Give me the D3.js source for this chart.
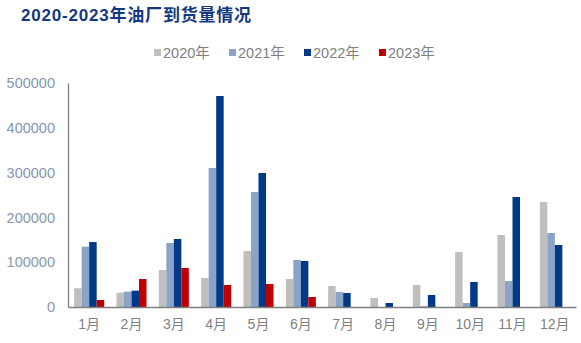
<!DOCTYPE html>
<html><head><meta charset="utf-8">
<script src="https://cdn.jsdelivr.net/npm/d3@7"></script>
<style>body{margin:0;background:#fff;}svg{display:block;}</style>
</head><body>
<script>
const categories = ["1月","2月","3月","4月","5月","6月","7月","8月","9月","10月","11月","12月"];
const seriesNames = ["2020年","2021年","2022年","2023年"];
const v2020 = [41700, 32000, 82600, 64700, 125000, 62500, 46900, 20100, 49100, 122800, 160700, 234400];
const v2021 = [134600, 34200, 142900, 310300, 256700, 104900, 33500, null, 2000, 8900, 58000, 165200];
const v2022 = [145000, 36400, 151800, 471000, 299100, 102700, 31300, 8900, 26800, 55800, 245500, 138400];
const v2023 = [15600, 62500, 87000, 49100, 51300, 22300, null, null, null, null, null, null];
const yTicks = [0, 100000, 200000, 300000, 400000, 500000];
const colors = ["#BFBFBF", "#8AA3C7", "#003A86", "#C00000"];

const W = 581, H = 343;
const svg = d3.select("body").append("svg").attr("width", W).attr("height", H);
const m = {left: 68, right: 5, top: 83, bottom: 36};
const x = d3.scaleBand().domain(categories).range([m.left, W - m.right]).paddingInner(0.29).paddingOuter(0.145);
const y = d3.scaleLinear().domain([0, 500000]).range([H - m.bottom, m.top]);
const allSeries = [v2020, v2021, v2022, v2023];
const xs = d3.scaleBand().domain(d3.range(4)).range([0, x.bandwidth()]);

allSeries.forEach((vals, si) => {
  svg.append("g").selectAll("rect").data(vals.map((v, i) => ({v, c: categories[i]})).filter(d => d.v != null))
    .join("rect")
    .attr("x", d => x(d.c) + xs(si))
    .attr("width", xs.bandwidth())
    .attr("y", d => y(d.v))
    .attr("height", d => y(0) - y(d.v))
    .attr("fill", colors[si]);
});

// axes
const yAxis = svg.append("g").attr("transform", `translate(${m.left},0)`)
  .call(d3.axisLeft(y).tickValues(yTicks).tickSize(0).tickPadding(13).tickFormat(d3.format("d")));
yAxis.select(".domain").attr("stroke", "#808080").attr("stroke-width", 1.3);
yAxis.selectAll("text").attr("fill", "#8796B0").style("font-family", "Arial, 'Liberation Sans', sans-serif").style("font-size", "14.5px");

const xAxis = svg.append("g").attr("transform", `translate(0,${y(0)})`)
  .call(d3.axisBottom(x).tickSize(0).tickPadding(12));
xAxis.select(".domain").attr("stroke", "#808080").attr("stroke-width", 1.6);
xAxis.selectAll("text").attr("fill", "#7F7F7F").style("font-family", "Arial, 'Liberation Sans', 'Noto Sans CJK SC', sans-serif").style("font-size", "14px");

// title
svg.append("text").attr("x", 21).attr("y", 21)
  .text("2020-2023年油厂到货量情况")
  .attr("fill", "#14387F").style("font-weight", "bold")
  .style("letter-spacing", "0.8px")
  .style("font-family", "'Liberation Sans', 'Noto Sans CJK SC', sans-serif").style("font-size", "17px");

// legend
const legendX = [154, 229, 304, 379];
const lg = svg.append("g");
seriesNames.forEach((name, i) => {
  lg.append("rect").attr("x", legendX[i]).attr("y", 49).attr("width", 7).attr("height", 7).attr("fill", colors[i]);
  lg.append("text").attr("x", legendX[i] + 9).attr("y", 58).text(name)
    .attr("fill", "#808080").style("font-family", "Arial, 'Liberation Sans', 'Noto Sans CJK SC', sans-serif").style("font-size", "14.5px");
});
</script>
</body></html>
